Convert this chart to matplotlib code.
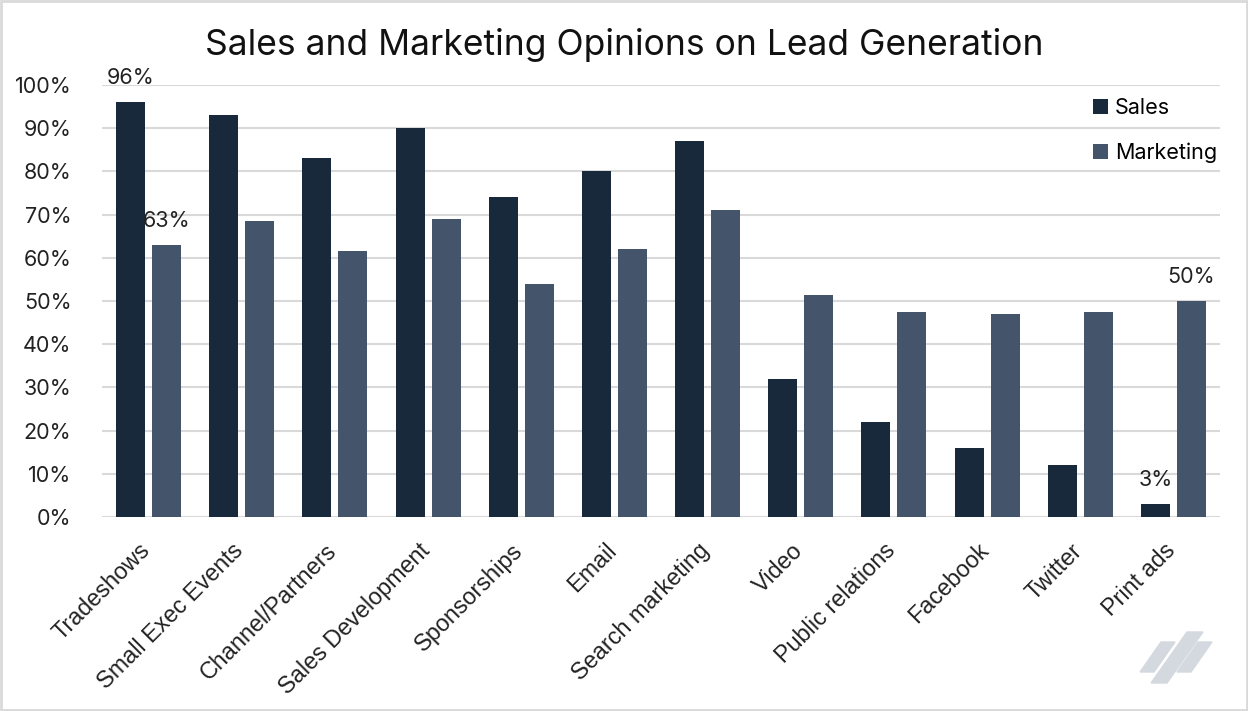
import matplotlib.pyplot as plt
import numpy as np
from matplotlib.patches import Polygon, Rectangle
from matplotlib.transforms import ScaledTranslation

categories = ['Tradeshows', 'Small Exec Events', 'Channel/Partners', 'Sales Development',
              'Sponsorships', 'Email', 'Search marketing', 'Video', 'Public relations',
              'Facebook', 'Twitter', 'Print ads']
sales = [96, 93, 83, 90, 74, 80, 87, 32, 22, 16, 12, 3]
marketing = [63, 68.5, 61.5, 69, 54, 62, 71, 51.5, 47.5, 47, 47.5, 50]
yticks = [0, 10, 20, 30, 40, 50, 60, 70, 80, 90, 100]

# which bars get a value label
sales_labels = [0, 11]
marketing_labels = [0, 11]

plt.rcParams['font.family'] = ['Liberation Sans', 'DejaVu Sans']
grot = ['Inter', 'DejaVu Sans']

fig = plt.figure(figsize=(12.48, 7.11), dpi=100)
ax = fig.add_axes([102/1248, 1 - 517/711, (1220-102)/1248, (517-85)/711])

x = np.arange(len(categories))
w = 0.31
off = 0.193
ax.bar(x - off, sales, w, color='#17293b', label='Sales', zorder=2)
ax.bar(x + off, marketing, w, color='#44546a', label='Marketing', zorder=2)

for i in sales_labels:
    ax.text(x[i] - off, sales[i] + 3.3, '%d%%' % sales[i], ha='center', va='bottom',
            fontsize=15.5, color='#222222', family=grot)
for i in marketing_labels:
    ax.text(x[i] + off, marketing[i] + 3.3, '%d%%' % marketing[i], ha='center', va='bottom',
            fontsize=15.5, color='#222222', family=grot)

ax.set_xlim(-0.5, len(categories) - 0.5)
ax.set_ylim(0, 100)
ax.set_yticks(yticks)
ax.set_yticklabels(['%d%%' % v for v in yticks], fontsize=15.5, color='#222222', family=grot)

# category labels drawn by hand so they can be nudged
ax.set_xticks(x)
ax.set_xticklabels([])
shift = ScaledTranslation(-10/100, -22/100, fig.dpi_scale_trans)
for i, c in enumerate(categories):
    ax.text(x[i], 0, c, transform=ax.get_xaxis_transform() + shift, rotation=45,
            ha='right', va='top', rotation_mode='anchor', fontsize=16.8, color='#222222')

ax.tick_params(axis='both', length=0)
ax.tick_params(axis='y', pad=22)
ax.grid(axis='y', color='#d9d9d9', linewidth=1.5, zorder=0)
for s in ax.spines.values():
    s.set_visible(False)
ax.set_axisbelow(True)

ax.legend(loc='upper right', bbox_to_anchor=(1.005, 0.99), frameon=False,
          prop={'family': grot, 'size': 15.5},
          handlelength=0.7, handleheight=0.7, handletextpad=0.3, labelspacing=1.15, borderaxespad=0)

fig.text(624/1248, 1 - 45/711, 'Sales and Marketing Opinions on Lead Generation', ha='center', va='center',
         fontsize=25.5, color='#111111', family=grot)

# logo in bottom right
logo_c = '#d3d9de'
logo = [
    [(1140, 672), (1154, 672), (1175, 642), (1161, 642)],
    [(1151, 683), (1167, 683), (1203, 632), (1187, 632)],
    [(1177, 672), (1191, 672), (1212, 642), (1198, 642)],
]
for pts in logo:
    fig.patches.append(Polygon([(px/1248, 1 - py/711) for px, py in pts], closed=True,
                               transform=fig.transFigure, color=logo_c))

fig.patches.append(Rectangle((0.001, 0.001), 0.998, 0.997, transform=fig.transFigure,
                             fill=False, edgecolor='#d9d9d9', linewidth=2))

fig.savefig('out.png', dpi=100)
